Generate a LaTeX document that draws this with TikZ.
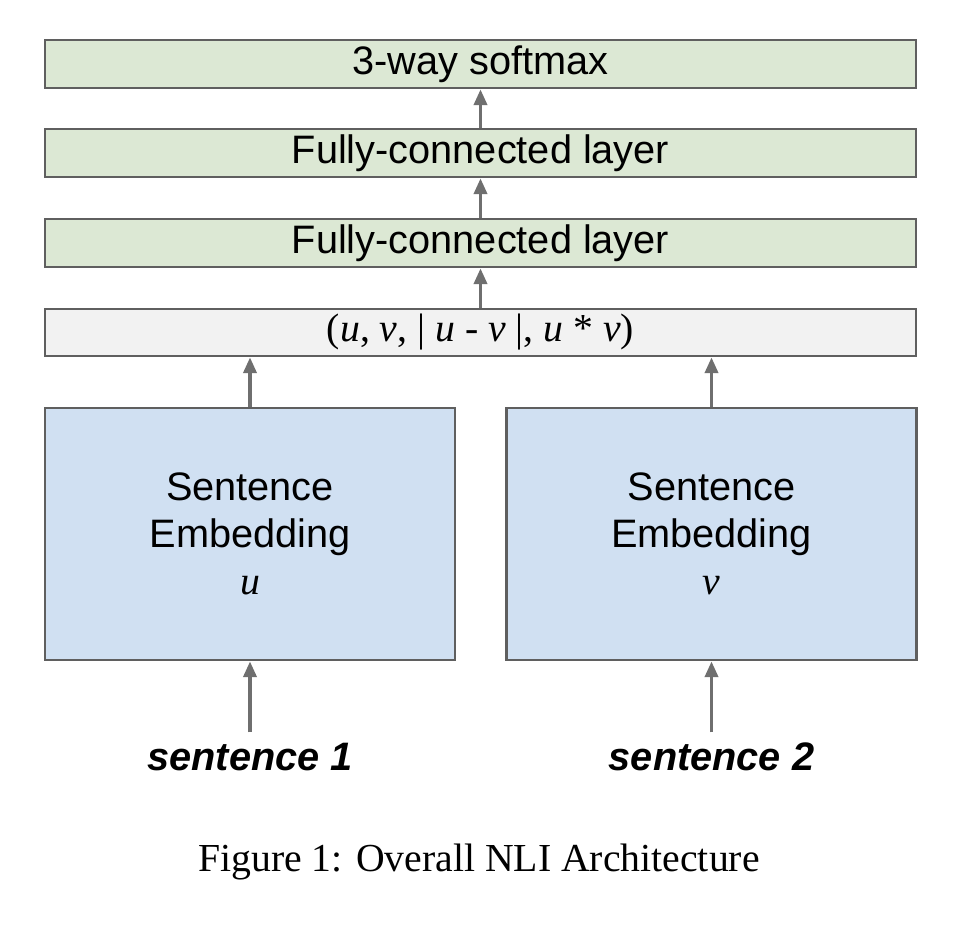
\documentclass[tikz,border=0pt]{standalone}
\usepackage{fontspec}
\setmainfont{Liberation Serif}
\setsansfont{Liberation Sans}
\usetikzlibrary{arrows.meta}
\definecolor{layergreen}{HTML}{DCE8D4}
\definecolor{catgray}{HTML}{F2F2F2}
\definecolor{embblue}{HTML}{D0E0F2}
\definecolor{edgegray}{HTML}{5F5F5F}
\tikzset{
  layerbox/.style={draw=edgegray, line width=0.7pt, fill=layergreen,
    minimum width=8.71cm, minimum height=0.48cm, inner sep=0pt,
    font=\sffamily\fontsize{11.3}{13.4}\selectfont},
  catbox/.style={layerbox, fill=catgray, minimum height=0.47cm,
    font=\rmfamily\fontsize{11.3}{13.4}\selectfont},
  embbox/.style={draw=edgegray, line width=0.7pt, fill=embblue,
    minimum width=4.1cm, minimum height=2.52cm, align=center,
    font=\sffamily\fontsize{11.3}{13.4}\selectfont},
  inputlabel/.style={font=\sffamily\bfseries\itshape\fontsize{11.3}{13.4}\selectfont,
    inner sep=0.1cm},
  uparrow/.style={draw=edgegray!90, line width=1.1pt,
    -{Triangle[length=1.6mm, width=1.3mm]}}
}
\begin{document}
\begin{tikzpicture}
  \useasboundingbox (0,0) rectangle (9.62,-9.24);

  % layers
  \node[layerbox] (softmax) at (4.805,-0.64) {3-way softmax};
  \node[layerbox] (fctop) at (4.805,-1.53) {Fully-connected layer};
  \node[layerbox] (fcbottom) at (4.805,-2.43) {Fully-connected layer};
  \node[catbox] (concat) at (4.805,-3.325)
    {(\textit{u}, \textit{v}, | \textit{u} - \textit{v} |, \textit{u} * \textit{v})};

  % sentence encoders
  \node[embbox] (embu) at (2.50,-5.34)
    {Sentence\\Embedding\\{\rmfamily\itshape u}};
  \node[embbox] (embv) at (7.115,-5.34)
    {Sentence\\Embedding\\{\rmfamily\itshape v}};

  % inputs
  \node[inputlabel] (sentu) at (2.50,-7.57) {sentence 1};
  \node[inputlabel] (sentv) at (7.115,-7.57) {sentence 2};

  \draw[uparrow] (sentu) -- (embu);
  \draw[uparrow] (sentv) -- (embv);
  \draw[uparrow] (embu) -- (concat.south -| embu);
  \draw[uparrow] (embv) -- (concat.south -| embv);
  \draw[uparrow] (concat) -- (fcbottom);
  \draw[uparrow] (fcbottom) -- (fctop);
  \draw[uparrow] (fctop) -- (softmax);

  \node[font=\rmfamily\fontsize{11.3}{13.4}\selectfont] (caption) at (4.79,-8.62)
    {Figure 1: Overall NLI Architecture};
\end{tikzpicture}
\end{document}
